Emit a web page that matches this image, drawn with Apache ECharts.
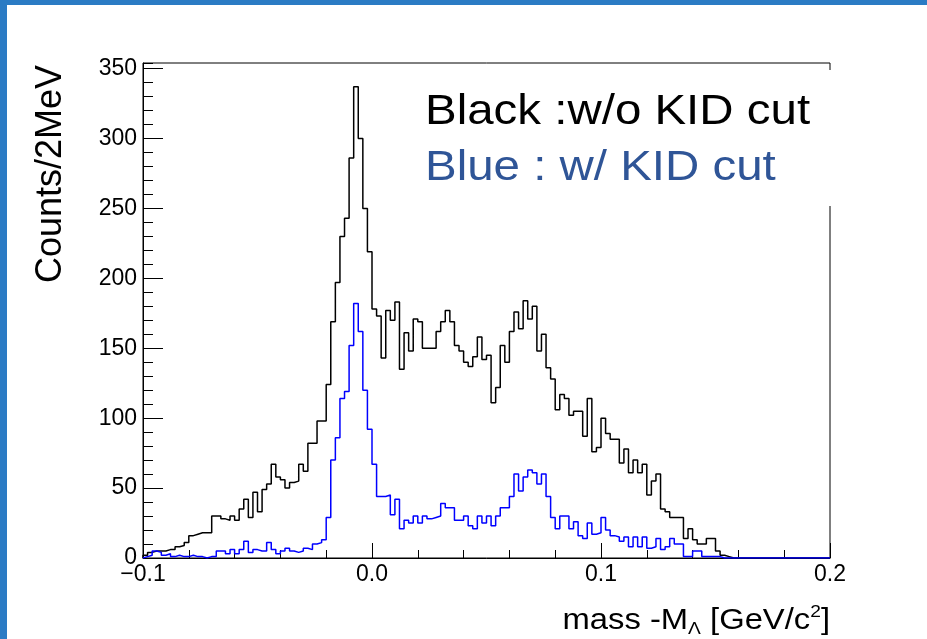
<!DOCTYPE html>
<html>
<head>
<meta charset="utf-8">
<script src="https://cdn.jsdelivr.net/npm/echarts@6/dist/echarts.min.js"></script>
<style>
html,body{margin:0;padding:0;width:927px;height:639px;overflow:hidden;background:#2B7BC4;}
#panel{position:absolute;left:7px;top:5px;right:0;bottom:0;background:#ffffff;}
#chart{position:absolute;left:0;top:0;width:927px;height:639px;}
</style>
</head>
<body>
<div id="panel"></div>
<div id="chart"></div>
<script>
// Histogram binning: 150 bins of 2 MeV from -0.1 to 0.2 GeV/c^2
const binStart = -0.1;
const binWidth = 0.002;

// Black : w/o KID cut (counts per bin)
const blackCounts = [
  2, 4, 5, 5, 5, 6, 6, 8, 9, 11,
  16, 17, 18, 18, 18, 30, 30, 28, 27, 30,
  27, 35, 42, 29, 47, 33, 49, 53, 67, 58,
  56, 50, 54, 55, 67, 62, 82, 82, 98, 98,
  124, 169, 197, 230, 243, 286, 337, 300, 250, 219,
  178, 173, 143, 177, 170, 183, 135, 161, 148, 171,
  169, 150, 150, 150, 162, 169, 177, 169, 152, 148,
  140, 137, 144, 158, 142, 145, 111, 122, 152, 140,
  162, 176, 164, 184, 171, 180, 148, 160, 136, 128,
  106, 117, 114, 102, 105, 105, 87, 114, 76, 79,
  100, 89, 85, 85, 68, 78, 61, 70, 61, 67,
  45, 55, 60, 35, 33, 29, 29, 29, 14, 21,
  13, 10, 10, 14, 14, 5, 2, 1, 0, 0,
  0, 0, 0, 0, 0, 0, 0, 0, 0, 0,
  0, 0, 0, 0, 0, 0, 0, 0, 0, 0
];

// Blue : w/ KID cut (counts per bin)
const blueCounts = [
  1, 2, 5, 4, 2, 3, 1, 2, 1, 1,
  2, 1, 1, 0, 1, 1, 5, 5, 3, 6,
  3, 6, 12, 4, 6, 5, 5, 11, 6, 3,
  5, 7, 5, 4, 5, 7, 6, 10, 11, 13,
  29, 70, 86, 114, 119, 152, 182, 162, 120, 92,
  67, 44, 44, 45, 31, 42, 21, 27, 25, 30,
  25, 30, 28, 29, 30, 39, 36, 36, 27, 27,
  30, 23, 21, 30, 25, 30, 23, 30, 36, 36,
  44, 60, 48, 58, 63, 61, 53, 60, 44, 29,
  21, 30, 30, 21, 26, 16, 14, 25, 17, 18,
  29, 20, 16, 15, 12, 15, 8, 15, 8, 15,
  7, 8, 14, 6, 8, 14, 10, 10, 1, 1,
  5, 5, 1, 1, 1, 1, 0, 0, 0, 0,
  0, 0, 0, 0, 0, 0, 0, 0, 0, 0,
  0, 0, 0, 0, 0, 0, 0, 0, 0, 0
];

const xTickValues = [-0.1, 0.0, 0.1, 0.2];
const yTickValues = [0, 50, 100, 150, 200, 250, 300, 350];

const legendLines = ['Black :w/o KID cut', 'Blue : w/ KID cut'];
const yTitle = 'Counts/2MeV';

function histPoints(counts) {
  const pts = [[binStart, 0]];
  counts.forEach(function (c, i) {
    pts.push([+(binStart + i * binWidth).toFixed(4), c]);
  });
  pts.push([+(binStart + counts.length * binWidth).toFixed(4), counts[counts.length - 1]]);
  return pts;
}

const FONT = '"Liberation Sans", Arial, Helvetica, sans-serif';

const chart = echarts.init(document.getElementById('chart'), null, {renderer: 'canvas'});

chart.setOption({
  animation: false,
  backgroundColor: 'transparent',
  grid: {
    left: 143, right: 97, top: 63, bottom: 81,
    show: true, borderColor: '#000', borderWidth: 1,
    backgroundColor: 'transparent',
    containLabel: false,
    outerBoundsMode: 'none'
  },
  xAxis: {
    type: 'value',
    min: -0.1, max: 0.2, interval: 0.1,
    axisLine: {show: true, onZero: false, lineStyle: {color: '#000', width: 1}},
    axisTick: {show: true, inside: true, length: 15, lineStyle: {color: '#000', width: 1}},
    minorTick: {show: true, splitNumber: 5, length: 8, lineStyle: {color: '#000', width: 1}},
    splitLine: {show: false},
    axisLabel: {
      show: true, margin: 5, fontSize: 23, color: '#000', fontFamily: FONT,
      formatter: function (v) {
        const hit = xTickValues.find(function (t) { return Math.abs(t - v) < 1e-9; });
        if (hit === undefined) return '';
        if (Math.abs(hit) < 1e-9) return '0.0';
        return hit < 0 ? '\u2212' + Math.abs(hit).toFixed(1) : hit.toFixed(1);
      }
    }
  },
  yAxis: [
    {
      type: 'value', position: 'left',
      min: 0, max: 354, interval: 50,
      axisLine: {show: true, onZero: false, lineStyle: {color: '#000', width: 1}},
      axisTick: {show: true, inside: true, length: 20, lineStyle: {color: '#000', width: 1}},
      minorTick: {show: false},
      splitLine: {show: false},
      axisLabel: {
        show: true, margin: 6, fontSize: 23, color: '#000', fontFamily: FONT,
        showMaxLabel: false,
        formatter: function (v) {
          return yTickValues.indexOf(Math.round(v)) >= 0 && Math.abs(v - Math.round(v)) < 1e-9 ? String(Math.round(v)) : '';
        }
      }
    },
    {
      type: 'value', position: 'left', offset: 0,
      min: 0, max: 354, interval: 10,
      axisLine: {show: false, onZero: false},
      axisTick: {show: true, inside: true, length: 10, lineStyle: {color: '#000', width: 1}},
      axisLabel: {show: false},
      splitLine: {show: false}
    }
  ],
  series: [
    {
      name: legendLines[0],
      type: 'line', step: 'end', symbol: 'none', showSymbol: false,
      xAxisIndex: 0, yAxisIndex: 0,
      data: histPoints(blackCounts),
      lineStyle: {color: '#000000', width: 1.5},
      z: 2, silent: true
    },
    {
      name: legendLines[1],
      type: 'line', step: 'end', symbol: 'none', showSymbol: false,
      xAxisIndex: 0, yAxisIndex: 0,
      data: histPoints(blueCounts),
      lineStyle: {color: '#0000FF', width: 1.5},
      z: 3, silent: true
    }
  ],
  graphic: [
    {
      type: 'rect', z: 100,
      shape: {x: 405, y: 70, width: 432, height: 136},
      style: {fill: '#ffffff'}
    },
    {
      type: 'text', z: 101, x: 425, y: 112.5, scaleX: 1.13, scaleY: 1,
      style: {text: legendLines[0], fontSize: 42, fontFamily: FONT, fill: '#000000', align: 'left', verticalAlign: 'middle'}
    },
    {
      type: 'text', z: 101, x: 425, y: 168.5, scaleX: 1.13, scaleY: 1,
      style: {text: legendLines[1], fontSize: 42, fontFamily: FONT, fill: '#2F5597', align: 'left', verticalAlign: 'middle'}
    },
    {
      type: 'text', z: 101, x: 51, y: 65, rotation: Math.PI / 2,
      style: {text: yTitle, fontSize: 36, fontFamily: FONT, fill: '#000', align: 'right', verticalAlign: 'middle'}
    },
    {
      type: 'text', z: 101, x: 830, y: 621, scaleX: 1.13, scaleY: 1,
      style: {
        text: 'mass -M{sub|\u039B} [GeV/c{sup|2}]',
        fontSize: 29, lineHeight: 34, fontFamily: FONT, fill: '#000',
        align: 'right', verticalAlign: 'middle',
        rich: {
          sub: {fontSize: 17, lineHeight: 17, verticalAlign: 'bottom', fontFamily: FONT, fill: '#000'},
          sup: {fontSize: 17, lineHeight: 17, verticalAlign: 'top', fontFamily: FONT, fill: '#000'}
        }
      }
    }
  ]
});
</script>
</body>
</html>
